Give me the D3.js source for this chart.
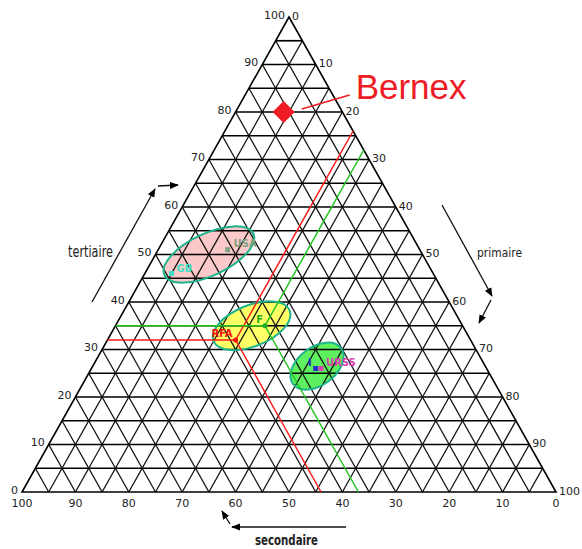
<!DOCTYPE html>
<html>
<head>
<meta charset="utf-8">
<script src="https://cdn.jsdelivr.net/npm/d3@7"></script>
<style>
  body { margin: 0; background: #fff; }
  svg { display: block; }
</style>
</head>
<body>
<svg id="chart" width="582" height="549"></svg>
<script>
// ---- Data --------------------------------------------------------------
// Tick values shared by the three axes (percent).
const tickValues = [0, 10, 20, 30, 40, 50, 60, 70, 80, 90, 100];
const gridStep = 5;

// Countries: employment share by sector (%).
const countries   = ["USA", "GB", "RFA", "F", "I", "URSS"];
const primaire    = [13, 5, 24, 28, 42, 43];
const secondaire  = [36, 49, 44, 37, 32, 31];
const tertiaire   = [51, 46, 32, 35, 26, 26];

// Countries whose composition is traced back to the three axes.
const tracedCountries = ["RFA", "F"];

// Grouping zones (centre of each zone, %).
const zones            = ["tertiaire", "mixte", "agricole"];
const zonePrimaire     = [10, 25.5, 42];
const zoneSecondaire   = [40, 39.5, 31.5];
const zoneTertiaire    = [50, 35, 26.5];

// Highlighted commune.
const siteName       = "Bernex";
const sitePrimaire   = 9;
const siteSecondaire = 11;
const siteTertiaire  = 80;

// ---- Styles ------------------------------------------------------------
const countryStyle = {
  USA:  { color: "#7fa37f", marker: "square", dx: 6,  dy: -3, anchor: "start" },
  GB:   { color: "#3fe0c6", marker: "square", dx: 5,  dy: -2, anchor: "start" },
  RFA:  { color: "#ee1111", marker: "dot",    dx: -3, dy: -3, anchor: "end" },
  F:    { color: "#1fae1f", marker: "dot",    dx: -2, dy: -3, anchor: "end" },
  I:    { color: "#2233cc", marker: "square", dx: -4, dy: -3, anchor: "end" },
  URSS: { color: "#dd3fae", marker: "square", dx: 5,  dy: -3, anchor: "start" }
};
const traceColor = { RFA: "#ff1a1a", F: "#1ec41e" };
const zoneStyle = {
  tertiaire: { fill: "#fbc9c9", rx: 49, ry: 21,   rot: -25 },
  mixte:     { fill: "#ffff66", rx: 41, ry: 20.5, rot: -22 },
  agricole:  { fill: "#5ef05e", rx: 30, ry: 19,   rot: -37 }
};

// ---- Layout ------------------------------------------------------------
const APEX = [289, 17], LEFT = [22, 492], RIGHT = [556, 492];

const svg = d3.select("#chart");

// Vertical position depends only on the tertiaire share.
const yT = d3.scaleLinear().domain([0, 100]).range([LEFT[1], APEX[1]]);
// Horizontal extents of a row of constant tertiaire share.
const xLeftEdge  = d3.scaleLinear().domain([0, 100]).range([LEFT[0], APEX[0]]);
const xRightEdge = d3.scaleLinear().domain([0, 100]).range([RIGHT[0], APEX[0]]);

// (primaire, secondaire, tertiaire) -> [x, y]
function project(p, s, t) {
  const y = yT(t);
  const x0 = xLeftEdge(t), x1 = xRightEdge(t);
  const rest = p + s;
  const frac = rest === 0 ? 0.5 : p / rest;
  return [x0 + (x1 - x0) * frac, y];
}

const gZoneFill = svg.append("g");
const gGrid = svg.append("g");
const gZoneStroke = svg.append("g");
const gTrace = svg.append("g");
const gMarks = svg.append("g");
const gText = svg.append("g");

// ---- Zones (fill under the grid) -------------------------------------
zones.forEach((z, i) => {
  const [cx, cy] = project(zonePrimaire[i], zoneSecondaire[i], zoneTertiaire[i]);
  const st = zoneStyle[z];
  gZoneFill.append("ellipse")
    .attr("cx", 0).attr("cy", 0).attr("rx", st.rx).attr("ry", st.ry)
    .attr("transform", `translate(${cx},${cy}) rotate(${st.rot})`)
    .attr("fill", st.fill);
  gZoneStroke.append("ellipse")
    .attr("cx", 0).attr("cy", 0).attr("rx", st.rx).attr("ry", st.ry)
    .attr("transform", `translate(${cx},${cy}) rotate(${st.rot})`)
    .attr("fill", "none").attr("stroke", "#1db38c").attr("stroke-width", 2);
});

// ---- Grid ----------------------------------------------------------------
const line = d3.line();
const steps = d3.range(gridStep, 100, gridStep);
steps.forEach(v => {
  // constant tertiaire (horizontal)
  gGrid.append("path")
    .attr("d", line([project(0, 100 - v, v), project(100 - v, 0, v)]))
    .attr("stroke", "#000").attr("stroke-width", 1.7).attr("fill", "none");
  // constant primaire (parallel to left edge)
  gGrid.append("path")
    .attr("d", line([project(v, 0, 100 - v), project(v, 100 - v, 0)]))
    .attr("stroke", "#111").attr("stroke-width", 1.3).attr("fill", "none");
  // constant secondaire (parallel to right edge)
  gGrid.append("path")
    .attr("d", line([project(100 - v, v, 0), project(0, v, 100 - v)]))
    .attr("stroke", "#111").attr("stroke-width", 1.3).attr("fill", "none");
});
// outline
gGrid.append("path")
  .attr("d", line([project(0, 0, 100), project(0, 100, 0), project(100, 0, 0)]) + "Z")
  .attr("stroke", "#000").attr("stroke-width", 1.6).attr("fill", "none")
  .attr("stroke-linejoin", "miter");

// ---- Tick labels ----------------------------------------------------------
const tickFont = "'DejaVu Sans', Verdana, sans-serif";
tickValues.forEach(v => {
  // tertiaire along the left edge
  const [lx, ly] = project(0, 100 - v, v);
  gText.append("text").attr("x", lx - 4).attr("y", ly - 2)
    .attr("text-anchor", "end").attr("dominant-baseline", "central")
    .attr("font-family", tickFont).attr("font-size", 11).attr("fill", "#222")
    .text(v);
  // primaire along the right edge
  const [rx, ry] = project(v, 0, 100 - v);
  gText.append("text").attr("x", rx + 3).attr("y", ry - 1)
    .attr("text-anchor", "start").attr("dominant-baseline", "central")
    .attr("font-family", tickFont).attr("font-size", 11).attr("fill", "#222")
    .text(v);
  // secondaire along the base
  const [bx, by] = project(100 - v, v, 0);
  gText.append("text").attr("x", bx).attr("y", by + 11)
    .attr("text-anchor", "middle").attr("dominant-baseline", "central")
    .attr("font-family", tickFont).attr("font-size", 11).attr("fill", "#222")
    .text(v);
});

// ---- Composition traces ----------------------------------------------------
tracedCountries.forEach(name => {
  const i = countries.indexOf(name);
  const p = primaire[i], s = secondaire[i], t = tertiaire[i];
  const pt = project(p, s, t);
  const col = traceColor[name];
  const ends = [
    project(0, 100 - t, t),   // to tertiaire axis
    project(p, 0, 100 - p),   // to primaire axis
    project(100 - s, s, 0)    // to secondaire axis
  ];
  ends.forEach(e => {
    gTrace.append("path").attr("d", line([pt, e]))
      .attr("stroke", col).attr("stroke-width", 1.5).attr("fill", "none");
  });
});

// ---- Country markers and labels -------------------------------------------
countries.forEach((name, i) => {
  const [x, y] = project(primaire[i], secondaire[i], tertiaire[i]);
  const st = countryStyle[name];
  if (st.marker === "square") {
    gMarks.append("rect").attr("x", x - 2.5).attr("y", y - 2.5)
      .attr("width", 5).attr("height", 5).attr("fill", st.color);
  } else {
    gMarks.append("circle").attr("cx", x).attr("cy", y).attr("r", 2.5)
      .attr("fill", st.color);
  }
  gText.append("text").attr("x", x + st.dx).attr("y", y + st.dy)
    .attr("text-anchor", st.anchor)
    .attr("font-family", "'DejaVu Sans', sans-serif").attr("font-weight", "bold")
    .attr("font-size", 10).attr("fill", st.color)
    .text(name);
});

// ---- Highlighted commune --------------------------------------------------
{
  const [x, y] = project(sitePrimaire, siteSecondaire, siteTertiaire);
  gMarks.append("path")
    .attr("d", d3.symbol(d3.symbolSquare, 245)())
    .attr("transform", `translate(${x},${y}) rotate(45)`)
    .attr("fill", "#ee1c25");
  gMarks.append("path")
    .attr("d", line([[x + 18, y - 3], [x + 66, y - 17]]))
    .attr("stroke", "#ee1c25").attr("stroke-width", 1.5).attr("fill", "none");
  gText.append("text").attr("x", x + 72).attr("y", y - 13)
    .attr("font-family", "'Liberation Sans', Arial, sans-serif")
    .attr("font-size", 35).attr("fill", "#ee1c25")
    .text(siteName);
}

// ---- Axis titles and direction arrows ------------------------------------
const defs = svg.append("defs");
defs.append("marker").attr("id", "head")
  .attr("viewBox", "0 0 10 10").attr("refX", 9).attr("refY", 5)
  .attr("markerWidth", 9).attr("markerHeight", 9)
  .attr("markerUnits", "userSpaceOnUse").attr("orient", "auto")
  .append("path").attr("d", "M0,1 L10,5 L0,9 Z").attr("fill", "#000");

function arrow(pts) {
  svg.append("path").attr("d", line(pts))
    .attr("stroke", "#111").attr("stroke-width", 1.3)
    .attr("fill", "none").attr("marker-end", "url(#head)");
}

// tertiaire (left edge, pointing up)
arrow([[92, 302], [155, 189]]);
arrow([[158, 186], [178, 185]]);
// primaire (right edge, pointing down)
arrow([[442, 205], [492, 296]]);
arrow([[491, 300], [479, 323]]);
// secondaire (base, pointing left)
arrow([[346, 527], [232, 527]]);
arrow([[230, 524], [222, 511]]);

const titleFont = "'Liberation Sans Narrow', 'DejaVu Sans Condensed', sans-serif";
svg.append("text").attr("x", 68).attr("y", 257)
  .attr("font-family", titleFont).attr("font-size", 15)
  .attr("textLength", 45).attr("lengthAdjust", "spacingAndGlyphs")
  .attr("fill", "#222").text("tertiaire");
svg.append("text").attr("x", 477).attr("y", 257)
  .attr("font-family", "'DejaVu Sans Condensed', sans-serif").attr("font-size", 13)
  .attr("textLength", 45).attr("lengthAdjust", "spacingAndGlyphs")
  .attr("fill", "#222").text("primaire");
svg.append("text").attr("x", 255).attr("y", 545)
  .attr("font-family", titleFont).attr("font-size", 14).attr("font-weight", "bold")
  .attr("textLength", 63).attr("lengthAdjust", "spacingAndGlyphs")
  .attr("fill", "#222").text("secondaire");
</script>
</body>
</html>
